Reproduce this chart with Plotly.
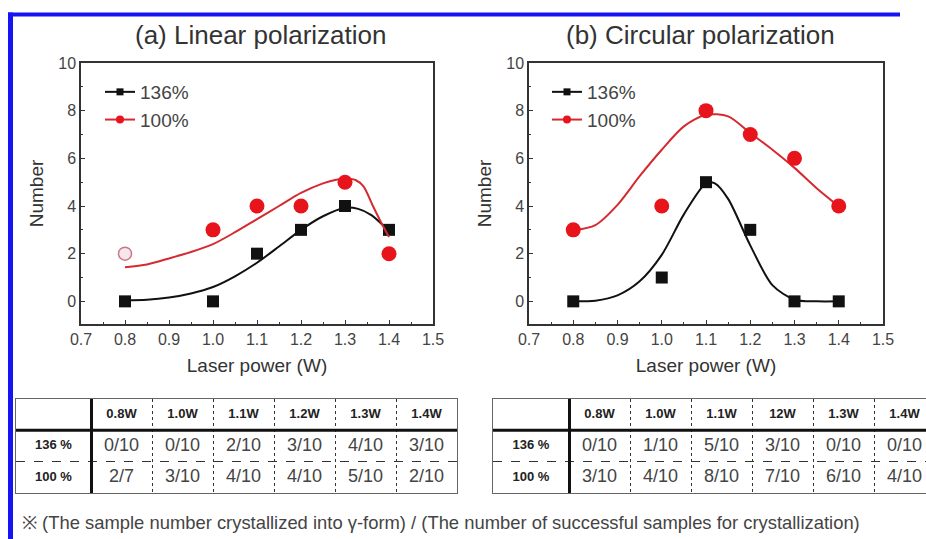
import plotly.graph_objects as go

# ---------------- data ----------------
powers = [0.8, 1.0, 1.1, 1.2, 1.3, 1.4]
lin_136 = [0, 0, 2, 3, 4, 3]
lin_100 = [2, 3, 4, 4, 5, 2]
circ_136 = [0, 1, 5, 3, 0, 0]
circ_100 = [3, 4, 8, 7, 6, 4]

# fitted curves
fit_lin_136_x = [0.80, 0.85, 0.90, 0.95, 1.00, 1.05, 1.10, 1.15, 1.20, 1.25, 1.30, 1.33, 1.36, 1.40]
fit_lin_136_y = [0.05, 0.07, 0.16, 0.33, 0.60, 1.05, 1.62, 2.30, 3.00, 3.57, 3.93, 3.88, 3.62, 2.95]
fit_lin_100_x = [0.80, 0.85, 0.90, 0.95, 1.00, 1.05, 1.10, 1.15, 1.20, 1.25, 1.28, 1.305, 1.325, 1.342, 1.364, 1.383, 1.40]
fit_lin_100_y = [1.43, 1.55, 1.80, 2.07, 2.40, 2.90, 3.45, 4.00, 4.55, 4.95, 5.10, 5.14, 5.08, 4.82, 3.98, 3.28, 2.70]
fit_circ_136_x = [0.80, 0.85, 0.90, 0.95, 1.00, 1.05, 1.10, 1.12, 1.15, 1.20, 1.25, 1.30, 1.35, 1.40]
fit_circ_136_y = [0.00, 0.03, 0.25, 0.84, 1.95, 3.65, 4.95, 4.95, 4.30, 2.35, 0.68, 0.07, 0.00, 0.00]
fit_circ_100_x = [0.80, 0.85, 0.90, 0.95, 1.00, 1.05, 1.10, 1.15, 1.20, 1.25, 1.30, 1.35, 1.40]
fit_circ_100_y = [2.98, 3.20, 4.05, 5.25, 6.36, 7.34, 7.83, 7.76, 7.06, 6.36, 5.60, 4.75, 3.99]

series_names = ["136%", "100%"]
x_ticks = [0.7, 0.8, 0.9, 1.0, 1.1, 1.2, 1.3, 1.4, 1.5]
x_tick_text = ["0.7", "0.8", "0.9", "1.0", "1.1", "1.2", "1.3", "1.4", "1.5"]
y_ticks = [0, 2, 4, 6, 8, 10]

hdr_lin = ["0.8W", "1.0W", "1.1W", "1.2W", "1.3W", "1.4W"]
hdr_circ = ["0.8W", "1.0W", "1.1W", "12W", "1.3W", "1.4W"]
row_labels = ["136 %", "100 %"]
tab_lin_136 = ["0/10", "0/10", "2/10", "3/10", "4/10", "3/10"]
tab_lin_100 = ["2/7", "3/10", "4/10", "4/10", "5/10", "2/10"]
tab_circ_136 = ["0/10", "1/10", "5/10", "3/10", "0/10", "0/10"]
tab_circ_100 = ["3/10", "4/10", "8/10", "7/10", "6/10", "4/10"]

footnote = "※ (The sample number crystallized into γ-form) / (The number of successful samples for crystallization)"

# ---------------- style ----------------
W, H = 926, 539
FONT = "Liberation Sans, Arial, sans-serif"
BLACK = "#111111"
RED = "#e8141c"
RED_LINE = "#d42a30"


def fx(p):
    return p / W


def fy(p):
    return 1 - p / H


fig = go.Figure()

# ---------------- plots ----------------
def add_panel(xa, ya, fx136, fy136, fx100, fy100, v136, v100, legend, open_first=False):
    fig.add_trace(go.Scatter(x=fx136, y=fy136, mode="lines", line=dict(color=BLACK, width=2, shape="spline", smoothing=0.8),
                             xaxis=xa, yaxis=ya, showlegend=False, hoverinfo="skip"))
    fig.add_trace(go.Scatter(x=powers, y=v136, mode="markers",
                             marker=dict(symbol="square", size=12, color=BLACK, line=dict(width=0)),
                             xaxis=xa, yaxis=ya, showlegend=False))
    fig.add_trace(go.Scatter(x=fx100, y=fy100, mode="lines", line=dict(color=RED_LINE, width=2, shape="spline", smoothing=0.8),
                             xaxis=xa, yaxis=ya, showlegend=False, hoverinfo="skip"))
    colors = [RED] * len(powers)
    lcolors = [RED] * len(powers)
    sizes = [15] * len(powers)
    widths = [0] * len(powers)
    if open_first:
        colors[0] = "#f7e6ea"
        lcolors[0] = "#c9788a"
        sizes[0] = 13
        widths[0] = 1.5
    fig.add_trace(go.Scatter(x=powers, y=v100, mode="markers", opacity=1,
                             marker=dict(symbol="circle", size=sizes, color=colors, opacity=1,
                                         line=dict(color=lcolors, width=widths)),
                             xaxis=xa, yaxis=ya, showlegend=False))
    # legend entries
    fig.add_trace(go.Scatter(x=[None], y=[None], mode="lines+markers", name=series_names[0],
                             line=dict(color=BLACK, width=2), marker=dict(symbol="square", size=7, color=BLACK),
                             xaxis=xa, yaxis=ya, legend=legend))
    fig.add_trace(go.Scatter(x=[None], y=[None], mode="lines+markers", name=series_names[1],
                             line=dict(color=RED_LINE, width=2), marker=dict(symbol="circle", size=8, color=RED),
                             xaxis=xa, yaxis=ya, legend=legend))


add_panel("x", "y", fit_lin_136_x, fit_lin_136_y, fit_lin_100_x, fit_lin_100_y, lin_136, lin_100, "legend", open_first=True)
add_panel("x2", "y2", fit_circ_136_x, fit_circ_136_y, fit_circ_100_x, fit_circ_100_y, circ_136, circ_100, "legend2")

axis_common = dict(showline=True, linecolor="#333", linewidth=1.5, mirror=True, showgrid=False, zeroline=False,
                   ticks="inside", ticklen=4, tickcolor="#333", automargin=False,
                   tickfont=dict(family=FONT, size=16, color="#444"))
xcommon = dict(axis_common, range=[0.7, 1.5], tickvals=x_ticks, ticktext=x_tick_text,
               minor=dict(ticks="inside", ticklen=2, dtick=0.05, tickcolor="#333"),
               title=dict(text="Laser power (W)", font=dict(family=FONT, size=19, color="#333"), standoff=12))
ycommon = dict(axis_common, range=[-0.95, 10], tickvals=y_ticks,
               minor=dict(ticks="inside", ticklen=2, dtick=1, tickcolor="#333"),
               title=dict(text="Number", font=dict(family=FONT, size=19, color="#333"), standoff=10))

ydom = [fy(324), fy(63)]
fig.update_layout(
    xaxis=dict(xcommon, domain=[fx(81), fx(433)], anchor="y"),
    yaxis=dict(ycommon, domain=ydom, anchor="x"),
    xaxis2=dict(xcommon, domain=[fx(529), fx(883)], anchor="y2"),
    yaxis2=dict(ycommon, domain=ydom, anchor="x2"),
)

# legends
leg_common = dict(bgcolor="rgba(0,0,0,0)", borderwidth=0, font=dict(family=FONT, size=19, color="#444"),
                  xanchor="left", yanchor="top", itemwidth=30, tracegroupgap=0)
fig.update_layout(
    legend=dict(leg_common, x=fx(100), y=fy(73)),
    legend2=dict(leg_common, x=fx(547), y=fy(73)),
)

# panel titles
for txt, xc in [("(a) Linear polarization", 260), ("(b) Circular polarization", 700)]:
    fig.add_annotation(text=txt, x=fx(xc), y=fy(35), xref="paper", yref="paper", showarrow=False,
                       font=dict(family=FONT, size=26, color="#333"), xanchor="center", yanchor="middle")

# ---------------- tables ----------------
n = len(powers)
col_centers = [i + 0.5 for i in range(n)]


def add_table(xa, ya, xdom, label_w, right_end, hdr, r136, r100, right_border):
    xname = "xaxis" + xa[1:]
    yname = "yaxis" + ya[1:]
    fig.update_layout(**{
        xname: dict(domain=xdom, range=[-label_w, right_end], anchor=ya, showline=True, mirror=True,
                    linecolor="#666", linewidth=1, tickvals=list(range(1, n)), showgrid=True, griddash="dot",
                    gridcolor="#333", gridwidth=1, showticklabels=False, ticks="", zeroline=True, automargin=False,
                    zerolinecolor="#111", zerolinewidth=3, fixedrange=True),
        yname: dict(domain=[fy(493), fy(399)], range=[0, 3], anchor=xa, showline=True, mirror=right_border,
                    linecolor="#666", linewidth=1, tickvals=[1], showgrid=True, griddash="dash", automargin=False,
                    gridcolor="#333", gridwidth=1, showticklabels=False, ticks="", zeroline=False, fixedrange=True),
    })
    fig.add_shape(type="line", xref=xa + " domain", yref=ya, x0=0, x1=1, y0=2, y1=2,
                  line=dict(color="#111", width=3))
    fig.add_trace(go.Scatter(x=col_centers, y=[2.5] * n, text=hdr, mode="text", xaxis=xa, yaxis=ya,
                             textfont=dict(family=FONT, size=13, color="#222", weight="bold"),
                             showlegend=False, hoverinfo="skip"))
    fig.add_trace(go.Scatter(x=[-label_w / 2] * 2, y=[1.5, 0.5], text=row_labels, mode="text", xaxis=xa, yaxis=ya,
                             textfont=dict(family=FONT, size=13, color="#222", weight="bold"),
                             showlegend=False, hoverinfo="skip"))
    fig.add_trace(go.Scatter(x=col_centers, y=[1.5] * n, text=r136, mode="text", xaxis=xa, yaxis=ya,
                             textfont=dict(family=FONT, size=18, color="#444"), showlegend=False, hoverinfo="skip"))
    fig.add_trace(go.Scatter(x=col_centers, y=[0.5] * n, text=r100, mode="text", xaxis=xa, yaxis=ya,
                             textfont=dict(family=FONT, size=18, color="#444"), showlegend=False, hoverinfo="skip"))


add_table("x3", "y3", [fx(16), fx(457)], 75 / 61, 6, hdr_lin, tab_lin_136, tab_lin_100, True)
add_table("x4", "y4", [fx(493), 1.0], 76 / 61, (926 - 569) / 61, hdr_circ, tab_circ_136, tab_circ_100, False)

# footnote
fig.add_annotation(text=footnote, x=fx(20), y=fy(522), xref="paper", yref="paper", showarrow=False,
                   font=dict(family=FONT, size=18.4, color="#444"), xanchor="left", yanchor="middle")

# blue frame (top and left edges only)
fig.add_shape(type="line", xref="paper", yref="paper", x0=fx(8), x1=fx(900), y0=fy(14.5), y1=fy(14.5),
              line=dict(color="#1414f5", width=4), layer="above")
fig.add_shape(type="line", xref="paper", yref="paper", x0=fx(10.5), x1=fx(10.5), y0=0, y1=fy(12.5),
              line=dict(color="#1414f5", width=5), layer="above")

fig.update_layout(width=W, height=H, autosize=False,
                  margin=dict(l=0, r=0, t=0, b=0, pad=0, autoexpand=False),
                  paper_bgcolor="white", plot_bgcolor="white", font=dict(family=FONT, color="#333"))

post = ("document.body.style.margin='0';document.body.style.padding='0';"
        "document.body.style.overflow='hidden';document.documentElement.style.overflow='hidden';")
fig.write_html("out.html", config={"displayModeBar": False, "responsive": False}, post_script=post)
